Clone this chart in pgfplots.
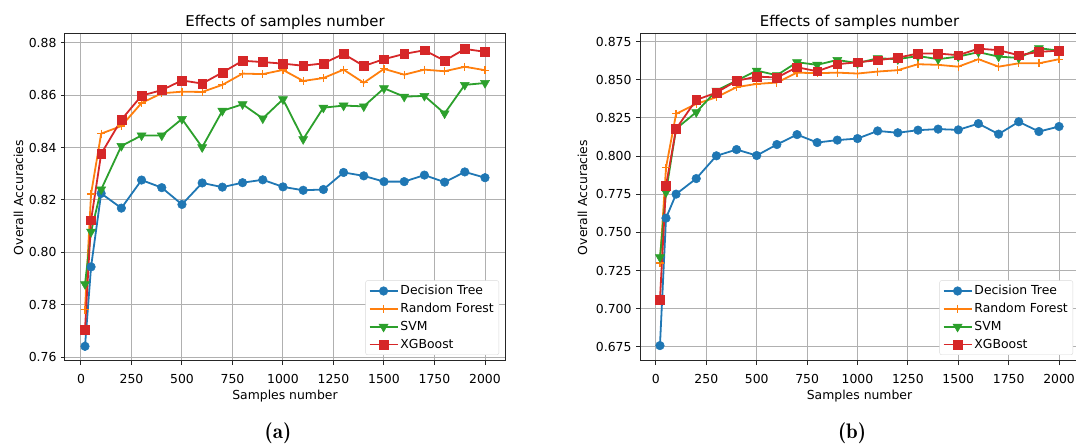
\documentclass[border=0pt]{standalone}
\usepackage{fontspec}
\setmainfont{DejaVu Sans}
\usepackage{pgfplots}
\usepackage{pgfplotstable}
\pgfplotsset{compat=1.18}
\definecolor{cblue}{HTML}{1F77B4}
\definecolor{corange}{HTML}{FF7F0E}
\definecolor{cgreen}{HTML}{2CA02C}
\definecolor{cred}{HTML}{D62728}
\definecolor{cgrid}{HTML}{B0B0B0}

\pgfplotstableread{
x dt rf svm xgb
20 0.7642 0.7782 0.7879 0.7706
50 0.7945 0.8223 0.8079 0.8123
100 0.8225 0.8453 0.8240 0.8376
200 0.8169 0.8482 0.8406 0.8506
300 0.8276 0.8570 0.8446 0.8598
400 0.8247 0.8607 0.8446 0.8619
500 0.8183 0.8613 0.8509 0.8656
600 0.8265 0.8612 0.8401 0.8644
700 0.8249 0.8639 0.8540 0.8686
800 0.8266 0.8682 0.8565 0.8731
900 0.8277 0.8680 0.8511 0.8726
1000 0.8250 0.8696 0.8584 0.8720
1100 0.8237 0.8654 0.8432 0.8712
1200 0.8240 0.8665 0.8552 0.8721
1300 0.8305 0.8697 0.8560 0.8757
1400 0.8292 0.8647 0.8557 0.8711
1500 0.8270 0.8700 0.8626 0.8737
1600 0.8270 0.8678 0.8594 0.8757
1700 0.8295 0.8697 0.8597 0.8771
1800 0.8268 0.8691 0.8530 0.8731
1900 0.8307 0.8708 0.8639 0.8776
2000 0.8285 0.8695 0.8646 0.8765
}\tableA

\pgfplotstableread{
x dt rf svm xgb
20 0.6759 0.7300 0.7337 0.7060
50 0.7594 0.7925 0.7764 0.7806
100 0.7751 0.8277 0.8179 0.8179
200 0.7853 0.8342 0.8288 0.8368
300 0.8002 0.8386 0.8429 0.8416
400 0.8043 0.8452 0.8495 0.8493
500 0.8004 0.8473 0.8560 0.8521
600 0.8076 0.8482 0.8530 0.8515
700 0.8141 0.8547 0.8615 0.8582
800 0.8089 0.8543 0.8598 0.8556
900 0.8105 0.8547 0.8630 0.8602
1000 0.8115 0.8541 0.8609 0.8615
1100 0.8165 0.8554 0.8641 0.8628
1200 0.8153 0.8563 0.8635 0.8645
1300 0.8170 0.8602 0.8656 0.8672
1400 0.8177 0.8598 0.8635 0.8672
1500 0.8172 0.8586 0.8652 0.8661
1600 0.8213 0.8635 0.8681 0.8704
1700 0.8144 0.8586 0.8652 0.8694
1800 0.8225 0.8608 0.8643 0.8661
1900 0.8161 0.8608 0.8707 0.8683
2000 0.8194 0.8635 0.8691 0.8691
}\tableB

\pgfplotsset{
  mystyle/.style={
    scale only axis, height=327pt,
    xmin=-79, xmax=2099,
    xtick={0,250,500,750,1000,1250,1500,1750,2000},
    scaled x ticks=false, scaled y ticks=false,
    grid=major,
    major grid style={color=cgrid, line width=1pt},
    axis line style={color=black!85, line width=1pt},
    tick style={color=black!85, line width=1pt},
    tick align=outside, tick pos=left, major tick length=4pt,
    tick label style={font=\fontsize{12.4}{14}\selectfont},
    /pgf/number format/assume math mode=true,
    /pgf/number format/set thousands separator={},
    /pgf/number format/fixed,
    /pgf/number format/fixed zerofill,
    xticklabel style={anchor=base, yshift=-18.3pt, /pgf/number format/precision=0},
    yticklabel style={anchor=east, xshift=-1pt},
    label style={font=\fontsize{12.4}{14}\selectfont},
    title style={font=\fontsize{14.9}{17}\selectfont, at={(0.5,1)}, anchor=base, yshift=1pt},
    title={Effects of samples number},
    xlabel={Samples number},
    xlabel style={at={(axis description cs:0.5,0)}, anchor=base, yshift=-38pt},
    ylabel={Overall Accuracies},
    legend style={at={(axis description cs:1,0)}, anchor=south east, xshift=-6pt, yshift=6pt,
      font=\fontsize{12.4}{15}\selectfont, draw=black!15, rounded corners=2pt,
      fill=white, inner sep=3pt, row sep=3pt},
    legend cell align=left,
    legend image code/.code={\draw[mark repeat=2,mark phase=2] plot coordinates {(0pt,0pt) (14pt,0pt) (28pt,0pt)};},
    every axis plot/.append style={line width=1.8pt},
  },
  dtstyle/.style={color=cblue, mark=*, mark size=4.3pt, mark options={solid, line width=0.5pt}},
  rfstyle/.style={color=corange, mark=+, mark size=4pt, mark options={solid, line width=1.2pt}},
  svmstyle/.style={color=cgreen, mark=triangle*, mark size=5.2pt, mark options={solid, rotate=180, line width=0.5pt}},
  xgbstyle/.style={color=cred, mark=square*, mark size=4.4pt, mark options={solid, line width=0.5pt}},
}

\begin{document}
\begin{tikzpicture}
\useasboundingbox (0pt,0pt) rectangle (1076pt,447pt);
\begin{axis}[mystyle, at={(65pt,86pt)}, anchor=south west, width=440pt,
  ymin=0.7586, ymax=0.8833,
  ytick={0.76,0.78,0.80,0.82,0.84,0.86,0.88},
  yticklabel style={/pgf/number format/precision=2},
  ylabel style={at={(axis description cs:-0.1057,0.5)}, anchor=center}]
\addplot[dtstyle] table[x=x, y=dt] {\tableA};
\addlegendentry{Decision Tree}
\addplot[rfstyle] table[x=x, y=rf] {\tableA};
\addlegendentry{Random Forest}
\addplot[svmstyle] table[x=x, y=svm] {\tableA};
\addlegendentry{SVM}
\addplot[xgbstyle] table[x=x, y=xgb] {\tableA};
\addlegendentry{XGBoost}
\end{axis}
\begin{axis}[mystyle, at={(640pt,86pt)}, anchor=south west, width=439pt,
  ymin=0.6658, ymax=0.880,
  ytick={0.675,0.700,0.725,0.750,0.775,0.800,0.825,0.850,0.875},
  yticklabel style={/pgf/number format/precision=3},
  ylabel style={at={(axis description cs:-0.131,0.5)}, anchor=center}]
\addplot[dtstyle] table[x=x, y=dt] {\tableB};
\addlegendentry{Decision Tree}
\addplot[rfstyle] table[x=x, y=rf] {\tableB};
\addlegendentry{Random Forest}
\addplot[svmstyle] table[x=x, y=svm] {\tableB};
\addlegendentry{SVM}
\addplot[xgbstyle] table[x=x, y=xgb] {\tableB};
\addlegendentry{XGBoost}
\end{axis}
\node[font=\fontfamily{lmr}\fontsize{21}{24}\selectfont\bfseries] at (278pt,13.5pt) {(a)};
\node[font=\fontfamily{lmr}\fontsize{21}{24}\selectfont\bfseries] at (852pt,13.5pt) {(b)};
\end{tikzpicture}
\end{document}
